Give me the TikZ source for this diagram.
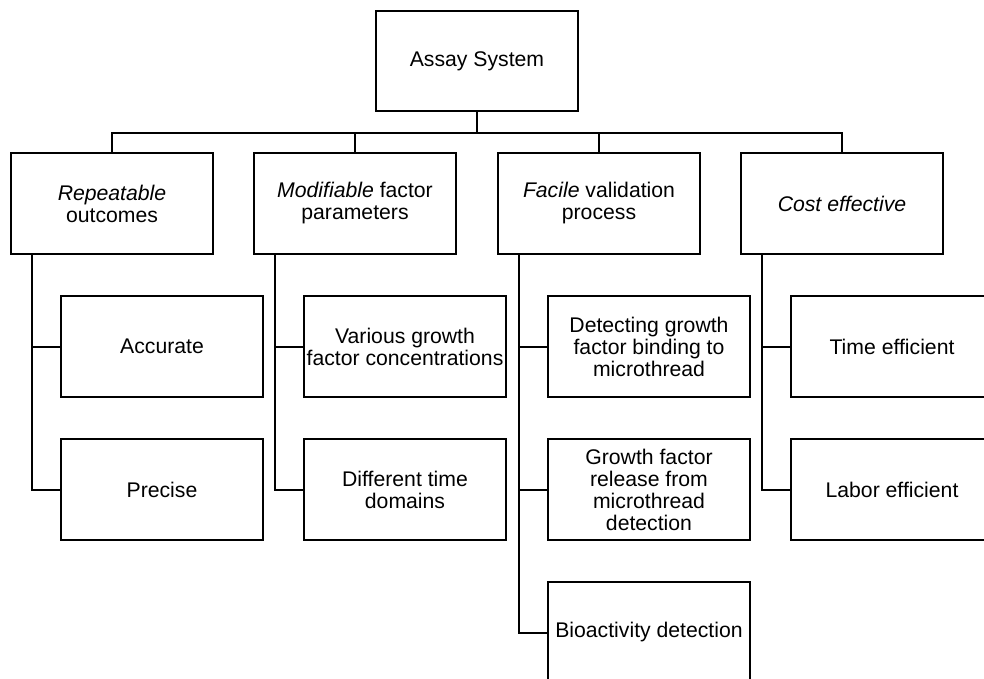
\documentclass[tikz,border=0pt]{standalone}
\usepackage{fontspec}
\setmainfont{Liberation Sans}
\begin{document}
\begin{tikzpicture}[x=1pt, y=-1pt, line width=2pt,
    every node/.style={font=\fontsize{21.2}{22}\selectfont},
    treebox/.style={draw, line width=2pt, inner sep=0pt, align=center,
        minimum width=202pt, minimum height=101pt}]
    % Canvas
    \useasboundingbox (0,0) rectangle (984,679);
    \clip (0,0) rectangle (984,679);

    % Root
    \node[treebox, minimum height=100pt] (assay) at (477,61) {Assay System};

    % Categories
    \node[treebox] (repeat) at (112,203.5) {\textit{Repeatable}\\outcomes};
    \node[treebox] (modify) at (355,203.5) {\textit{Modifiable} factor\\parameters};
    \node[treebox] (facile) at (599,203.5) {\textit{Facile} validation\\process};
    \node[treebox] (cost) at (842,203.5) {\textit{Cost effective}};

    % Sub items
    \node[treebox] (accurate) at (162,346.5) {Accurate};
    \node[treebox] (precise) at (162,489.5) {Precise};
    \node[treebox] (various) at (405,346.5) {Various growth\\factor concentrations};
    \node[treebox] (timedom) at (405,489.5) {Different time\\domains};
    \node[treebox] (detecting) at (649,346.5) {Detecting growth\\factor binding to\\microthread};
    \node[treebox] (release) at (649,489.5) {Growth factor\\release from\\microthread\\detection};
    \node[treebox] (bioact) at (649,632.5) {Bioactivity detection};
    \node[treebox] (timeeff) at (892,346.5) {Time efficient};
    \node[treebox] (laboreff) at (892,489.5) {Labor efficient};

    % Bus under the root
    \coordinate (bus) at (477,133);
    \draw (assay.south) -- (assay.south |- bus);
    \draw (repeat.north) |- (cost.north |- bus) -- (cost.north);
    \draw (modify.north) -- (modify.north |- bus);
    \draw (facile.north) -- (facile.north |- bus);

    % Trunks down to the sub items
    \draw ([xshift=-80pt]repeat.south) |- (precise.west);
    \draw (accurate.west) -- ++(-29pt,0);
    \draw ([xshift=-80pt]modify.south) |- (timedom.west);
    \draw (various.west) -- ++(-29pt,0);
    \draw ([xshift=-80pt]facile.south) |- (bioact.west);
    \draw (detecting.west) -- ++(-29pt,0);
    \draw (release.west) -- ++(-29pt,0);
    \draw ([xshift=-80pt]cost.south) |- (laboreff.west);
    \draw (timeeff.west) -- ++(-29pt,0);
\end{tikzpicture}
\end{document}
